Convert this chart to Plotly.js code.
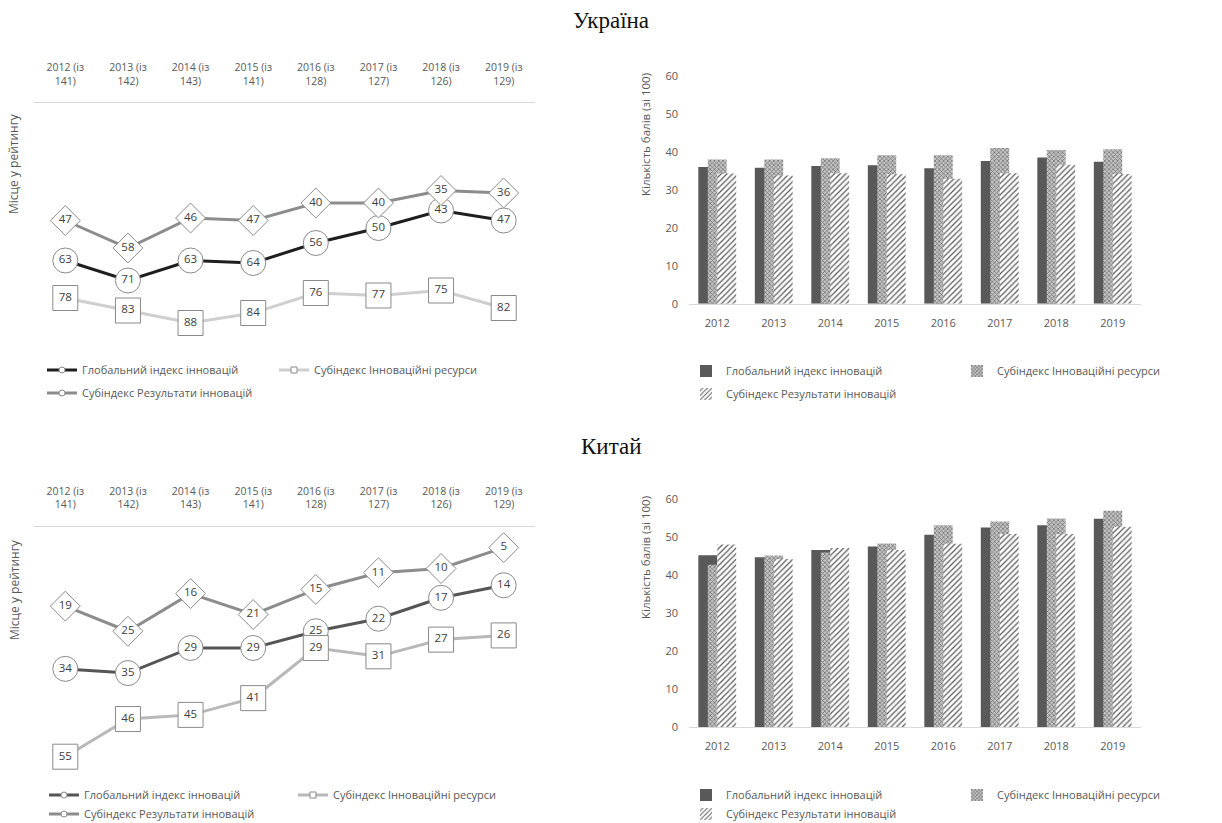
<!DOCTYPE html>
<html><head><meta charset="utf-8">
<script src="https://cdn.plot.ly/plotly-3.0.1.min.js"></script>
<style>html,body{margin:0;padding:0;background:#fff;overflow:hidden}#chart{width:1222px;height:840px}</style>
</head><body><div id="chart"></div>
<script>
// ---------- DATA ----------
const rankCategories = ['2012 (із<br>141)','2013 (із<br>142)','2014 (із<br>143)','2015 (із<br>141)','2016 (із<br>128)','2017 (із<br>127)','2018 (із<br>126)','2019 (із<br>129)'];
const years = ['2012','2013','2014','2015','2016','2017','2018','2019'];
const seriesNames = ['Глобальний індекс інновацій','Субіндекс Інноваційні ресурси','Субіндекс Результати інновацій'];
const chartTitles = ['Україна','Китай'];
const rankAxisTitle = 'Місце у рейтингу';
const scoreAxisTitle = 'Кількість балів (зі 100)';

const uaRankGII    = [63,71,63,64,56,50,43,47];
const uaRankInput  = [78,83,88,84,76,77,75,82];
const uaRankOutput = [47,58,46,47,40,40,35,36];
const cnRankGII    = [34,35,29,29,25,22,17,14];
const cnRankInput  = [55,46,45,41,29,31,27,26];
const cnRankOutput = [19,25,16,21,15,11,10,5];

const uaScoreGII    = [36.0,35.8,36.3,36.5,35.7,37.6,38.5,37.4];
const uaScoreInput  = [38.0,38.0,38.3,39.1,39.1,41.0,40.5,40.7];
const uaScoreOutput = [34.3,33.8,34.4,34.1,32.9,34.4,36.6,34.2];
const cnScoreGII    = [45.2,44.7,46.6,47.5,50.6,52.5,53.1,54.8];
const cnScoreInput  = [42.7,45.1,45.9,48.3,53.1,54.1,54.9,56.9];
const cnScoreOutput = [48.0,44.2,47.1,46.6,48.2,50.8,50.8,52.7];

// ---------- HELPERS ----------
const W = 1222, H = 840;
const fx = p => p / W;
const fy = p => 1 - p / H;
const FONT = '"Open Sans", "Noto Sans", sans-serif';
const GRAY = '#595959';

function lineTrace(xa, ya, y, color, symbol, size) {
  return {
    type: 'scatter', mode: 'lines+markers+text', x: rankCategories, y: y,
    xaxis: xa, yaxis: ya, showlegend: false, cliponaxis: false,
    text: y.map(String), textposition: 'middle center',
    textfont: {family: FONT, size: 11.5, color: '#404040'},
    line: {color: color, width: 3},
    marker: {symbol: symbol, size: size, color: 'white', line: {color: '#8a8a8a', width: 1}},
    hoverinfo: 'skip'
  };
}
function legendDummy(xa, ya, color, symbol, legendId, name) {
  return {
    type: 'scatter', mode: 'lines+markers', x: [null], y: [null], xaxis: xa, yaxis: ya,
    name: name, legend: legendId, showlegend: true,
    line: {color: color, width: 3},
    marker: {symbol: symbol, size: 6, color: 'white', line: {color: '#8a8a8a', width: 1}}
  };
}
function barTraces(xa, ya, gii, inp, out, legs) {
  return [
    {type:'bar', x: years, y: gii, xaxis: xa, yaxis: ya, name: seriesNames[0], legend: legs[0],
     width: 0.335, offset: -0.335, marker: {color: '#595959'}, hoverinfo:'skip'},
    {type:'bar', x: years, y: inp, xaxis: xa, yaxis: ya, name: seriesNames[1], legend: legs[1],
     width: 0.335, offset: -0.1675,
     marker: {color: '#bdbdbd', pattern: {shape: 'x', size: 3, solidity: 0.4, fgcolor: '#6a6a6a', bgcolor: '#c4c4c4'}}, hoverinfo:'skip'},
    {type:'bar', x: years, y: out, xaxis: xa, yaxis: ya, name: seriesNames[2], legend: legs[2],
     width: 0.335, offset: 0,
     marker: {color: 'white', pattern: {shape: '/', size: 4, solidity: 0.3, fgcolor: '#5a5a5a', bgcolor: 'white'}}, hoverinfo:'skip'}
  ];
}

const uaC = ['#1e1e1e', '#cfcfcf', '#8c8c8c'];
const cnC = ['#555555', '#b8b8b8', '#8c8c8c'];

const data = [
  lineTrace('x','y', uaRankGII, uaC[0], 'circle', 25),
  lineTrace('x','y', uaRankInput, uaC[1], 'square', 25),
  lineTrace('x','y', uaRankOutput, uaC[2], 'diamond', 23),
  legendDummy('x','y', uaC[0], 'circle', 'legend', seriesNames[0]),
  legendDummy('x','y', uaC[1], 'square', 'legend2', seriesNames[1]),
  legendDummy('x','y', uaC[2], 'circle', 'legend3', seriesNames[2]),
  ...barTraces('x2','y2', uaScoreGII, uaScoreInput, uaScoreOutput, ['legend4','legend5','legend6']),
  lineTrace('x3','y3', cnRankGII, cnC[0], 'circle', 25),
  lineTrace('x3','y3', cnRankInput, cnC[1], 'square', 25),
  lineTrace('x3','y3', cnRankOutput, cnC[2], 'diamond', 23),
  legendDummy('x3','y3', cnC[0], 'circle', 'legend7', seriesNames[0]),
  legendDummy('x3','y3', cnC[1], 'square', 'legend8', seriesNames[1]),
  legendDummy('x3','y3', cnC[2], 'circle', 'legend9', seriesNames[2]),
  ...barTraces('x4','y4', cnScoreGII, cnScoreInput, cnScoreOutput, ['legend10','legend11','legend12'])
];

function rankX(ya) {
  return {domain: [fx(34), fx(535)], anchor: ya, side: 'top', type: 'category', range: [-0.5, 7.5],
    showline: true, linecolor: '#d9d9d9', linewidth: 1, ticks: '', showgrid: false, zeroline: false,
    tickfont: {family: FONT, size: 10.5, color: GRAY}, ticklabelstandoff: 13, fixedrange: true};
}
function rankY(xa, top, bottom, maxv) {
  return {domain: [fy(bottom), fy(top)], anchor: xa, range: [maxv, 0], showticklabels: false,
    showgrid: false, zeroline: false, showline: false, ticks: '', fixedrange: true};
}
function scoreX(ya) {
  return {domain: [fx(689), fx(1141)], anchor: ya, type: 'category', range: [-0.5, 7.5],
    showline: true, linecolor: '#d9d9d9', linewidth: 1, ticks: '', showgrid: false, zeroline: false,
    tickfont: {family: FONT, size: 11, color: GRAY}, ticklabelstandoff: 9, fixedrange: true};
}
function scoreY(xa, top, bottom) {
  return {domain: [fy(bottom), fy(top)], anchor: xa, range: [0, 60], dtick: 10, showgrid: false,
    zeroline: false, showline: false, ticks: '', tickfont: {family: FONT, size: 11, color: GRAY},
    ticklabelstandoff: 10, fixedrange: true};
}
function leg(xp, yp) {
  return {x: fx(xp), y: fy(yp), xanchor: 'left', yanchor: 'middle', orientation: 'h',
    bgcolor: 'rgba(0,0,0,0)', borderwidth: 0, font: {family: FONT, size: 11, color: GRAY}};
}
function ann(text, xp, yp, opts) {
  return Object.assign({text: text, x: fx(xp), y: fy(yp), xref: 'paper', yref: 'paper',
    showarrow: false, xanchor: 'center', yanchor: 'middle'}, opts || {});
}

const layout = {
  width: W, height: H, margin: {l:0, r:0, t:0, b:0},
  paper_bgcolor: 'white', plot_bgcolor: 'white', barmode: 'overlay',
  font: {family: FONT, color: GRAY},
  xaxis: rankX('y'), yaxis: rankY('x', 103, 353, 100),
  xaxis2: scoreX('y2'), yaxis2: scoreY('x2', 76, 303.7),
  xaxis3: rankX('y3'), yaxis3: rankY('x3', 526.7, 777.6, 60),
  xaxis4: scoreX('y4'), yaxis4: scoreY('x4', 499, 727),
  legend: leg(42, 370), legend2: leg(274, 370), legend3: leg(42, 393),
  legend4: leg(686, 371), legend5: leg(957, 371), legend6: leg(686, 394),
  legend7: leg(44, 795), legend8: leg(293, 795), legend9: leg(44, 814),
  legend10: leg(686, 795), legend11: leg(957, 795), legend12: leg(686, 814),
  annotations: [
    ann(chartTitles[0], 611, 20, {font: {family: '"Liberation Serif", serif', size: 23, color: '#111'}}),
    ann(chartTitles[1], 611, 446, {font: {family: '"Liberation Serif", serif', size: 23, color: '#111'}}),
    ann(rankAxisTitle, 14, 164, {textangle: -90, font: {family: FONT, size: 12, color: GRAY}}),
    ann(rankAxisTitle, 14, 590, {textangle: -90, font: {family: FONT, size: 12, color: GRAY}}),
    ann(scoreAxisTitle, 645, 135, {textangle: -90, font: {family: FONT, size: 11.5, color: GRAY}}),
    ann(scoreAxisTitle, 645, 558, {textangle: -90, font: {family: FONT, size: 11.5, color: GRAY}})
  ]
};

Plotly.newPlot('chart', data, layout, {displayModeBar: false, staticPlot: true});
</script>
</body></html>
